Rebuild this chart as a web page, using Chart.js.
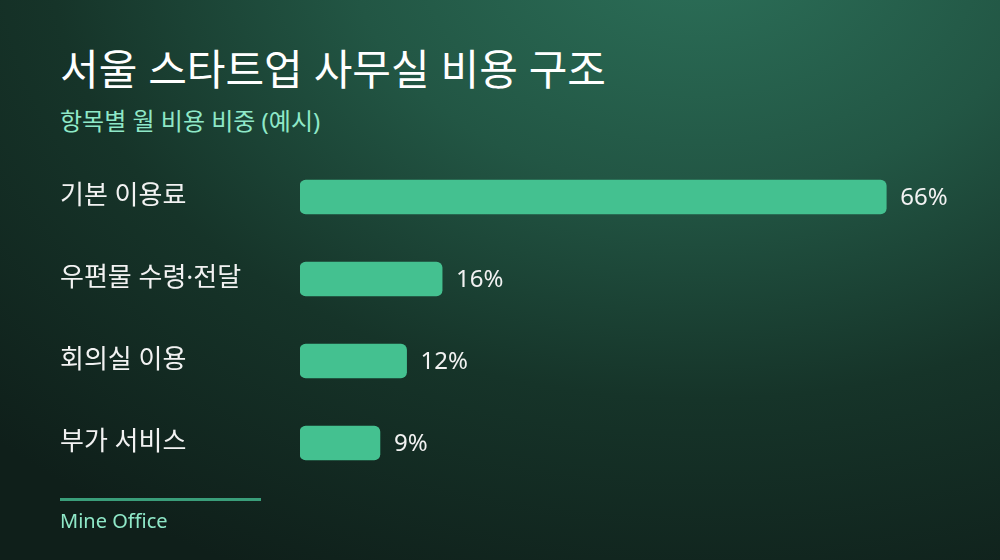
<!DOCTYPE html>
<html lang="ko">
<head>
<meta charset="utf-8">
<script src="https://cdn.jsdelivr.net/npm/chart.js@4.4.1/dist/chart.umd.min.js"></script>
<style>
  html, body { margin: 0; padding: 0; }
  body {
    width: 1000px; height: 560px; overflow: hidden;
    font-family: "Noto Sans", "Noto Sans CJK KR", sans-serif;
  }
  .card {
    position: relative; width: 1000px; height: 560px;
    background:
      radial-gradient(ellipse 1000px 700px at 70% -10%, #2c7059 0%, #225644 35%, #163429 65%, #0f1f1a 100%);
  }
  .title {
    position: absolute; left: 60px; top: 36px; margin: 0;
    color: #ffffff; font-size: 42px; font-weight: 400;
  }
  .subtitle {
    position: absolute; left: 60px; top: 102px; margin: 0;
    color: #8fe8c8; font-size: 24px; font-weight: 400;
  }
  .rule {
    position: absolute; left: 60px; top: 498px; width: 201px; height: 3px;
    background: #3a9e7a;
  }
  .brand {
    position: absolute; left: 60px; top: 507px;
    color: #8fe8c8; font-size: 20px;
  }
  #chart { position: absolute; left: 0; top: 0; }
</style>
</head>
<body>
<div class="card">
  <h1 class="title">서울 스타트업 사무실 비용 구조</h1>
  <p class="subtitle">항목별 월 비용 비중 (예시)</p>
  <canvas id="chart" width="1000" height="560"></canvas>
  <div class="rule"></div>
  <div class="brand">Mine Office</div>
</div>
<script>
// 데이터
const categories = ['기본 이용료', '우편물 수령·전달', '회의실 이용', '부가 서비스'];
const shares = [66, 16, 12, 9];

// 막대 끝에 퍼센트 표시
const valueLabels = {
  id: 'valueLabels',
  afterDatasetsDraw(chart) {
    const ctx = chart.ctx;
    const meta = chart.getDatasetMeta(0);
    ctx.save();
    ctx.font = '400 24px "Noto Sans", "Noto Sans CJK KR", sans-serif';
    ctx.fillStyle = '#f2f2f2';
    ctx.textAlign = 'left';
    ctx.textBaseline = 'middle';
    meta.data.forEach((bar, i) => {
      ctx.fillText(shares[i] + '%', bar.x + 14, bar.y + 1);
    });
    ctx.restore();
  }
};

const ctx = document.getElementById('chart').getContext('2d');
new Chart(ctx, {
  type: 'bar',
  data: {
    labels: categories,
    datasets: [{
      data: shares,
      backgroundColor: '#44c190',
      borderRadius: 6,
      borderSkipped: false,
      barThickness: 34
    }]
  },
  options: {
    indexAxis: 'y',
    responsive: false,
    animation: false,
    layout: { padding: { top: 156, bottom: 76, left: 60, right: 56 } },
    plugins: {
      legend: { display: false },
      tooltip: { enabled: false }
    },
    scales: {
      x: {
        display: false,
        min: 0,
        max: 72.5
      },
      y: {
        grid: { display: false },
        border: { display: false },
        afterFit(scale) { scale.width = 240; },
        ticks: {
          crossAlign: 'far',
          padding: 0,
          color: '#f2f2f2',
          font: { family: '"Noto Sans", "Noto Sans CJK KR", sans-serif', size: 26 }
        }
      }
    }
  },
  plugins: [valueLabels]
});
</script>
</body>
</html>
